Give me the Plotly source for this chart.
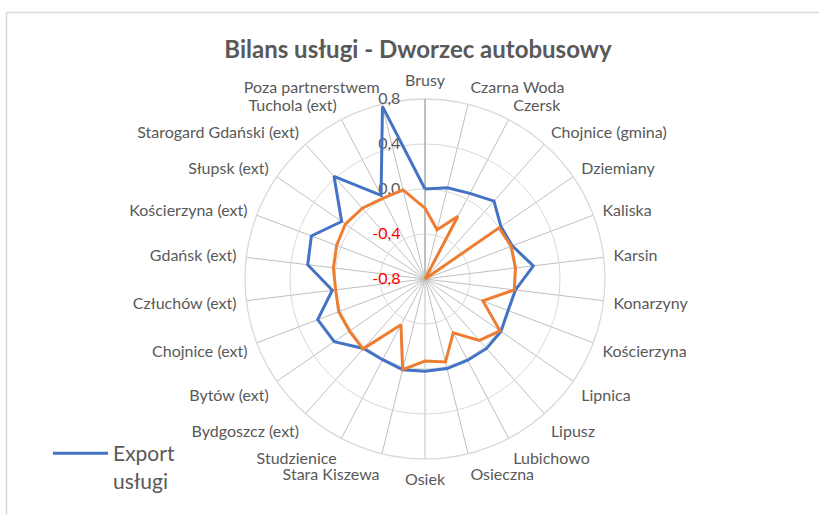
import plotly.graph_objects as go

categories = ["Brusy", "Czarna Woda", "Czersk", "Chojnice (gmina)", "Dziemiany", "Kaliska",
              "Karsin", "Konarzyny", "Kościerzyna", "Lipnica", "Lipusz", "Lubichowo",
              "Osieczna", "Osiek", "Stara Kiszewa", "Studzienice", "Bydgoszcz (ext)",
              "Bytów (ext)", "Chojnice (ext)", "Człuchów (ext)", "Gdańsk (ext)",
              "Kościerzyna (ext)", "Słupsk (ext)", "Starogard Gdański (ext)",
              "Tuchola (ext)", "Poza partnerstwem"]

export_uslugi = [0.0, 0.035, 0.06, 0.125, 0.02, 0.03, 0.17, 0.01, -0.01, 0.02, 0.025, 0.015,
                 0.02, 0.02, 0.03, 0.01, 0.025, 0.18, 0.22, 0.03, 0.25, 0.28, 0.10, 0.42,
                 0.04, 0.78]

import_uslugi = [-0.17, -0.35, -0.17, -0.8, 0.0, 0.02, 0.01, 0.0, -0.25, 0.01, -0.07, -0.26,
                 -0.04, -0.07, 0.03, -0.34, 0.03, 0.015, 0.02, 0.0, 0.02, 0.04, 0.06, 0.04,
                 0.01, 0.016]

tick_vals = [-0.8, -0.4, 0.0, 0.4, 0.8]
tick_text = ["<span style='color:#FF0000'>-0,8</span>",
             "<span style='color:#FF0000'>-0,4</span>",
             "0,0", "0,4", "0,8"]

W, H = 819, 515
cx, cy, R = 425, 279, 180

def closed(v):
    return list(v) + [v[0]]

fig = go.Figure()
fig.add_trace(go.Scatterpolar(
    r=closed(export_uslugi), theta=closed(categories), mode="lines",
    name="Export<br>usługi", line=dict(color="#4472C4", width=3)))
fig.add_trace(go.Scatterpolar(
    r=closed(import_uslugi), theta=closed(categories), mode="lines",
    name="Import usługi", showlegend=False, line=dict(color="#ED7D31", width=3)))

font_family = "Lato, Open Sans, sans-serif"

fig.update_layout(
    width=W, height=H,
    margin=dict(l=0, r=0, t=0, b=0),
    paper_bgcolor="white",
    font=dict(family=font_family, color="#595959"),
    title=dict(text="<b>Bilans usługi - Dworzec autobusowy</b>",
               x=418 / W, xanchor="center", y=1 - 50 / H, yanchor="middle",
               font=dict(size=24, color="#595959", family=font_family)),
    polar=dict(
        domain=dict(x=[(cx - R) / W, (cx + R) / W], y=[(H - cy - R) / H, (H - cy + R) / H]),
        bgcolor="white",
        angularaxis=dict(rotation=90, direction="clockwise", type="category",
                         categoryorder="array", categoryarray=categories,
                         showline=True, linecolor="#d9d9d9", linewidth=1.3,
                         gridcolor="#bfbfbf", gridwidth=1.3,
                         ticks="outside", ticklen=6, tickcolor="rgba(0,0,0,0)",
                         tickfont=dict(size=16, color="#595959"),
                         layer="below traces"),
        radialaxis=dict(range=[-0.8, 0.8], angle=90, tickangle=90,
                        tickvals=tick_vals, ticktext=tick_text,
                        tickfont=dict(size=16, color="#595959"),
                        side="counterclockwise",
                        ticks="outside", ticklen=18, tickcolor="rgba(0,0,0,0)",
                        showline=True, linecolor="#bfbfbf", linewidth=2,
                        gridcolor="#d9d9d9", gridwidth=1.3,
                        layer="below traces"),
    ),
    showlegend=True,
    legend=dict(x=48 / W, y=1 - 433 / H, xanchor="left", yanchor="top",
                bgcolor="rgba(0,0,0,0)", itemwidth=55, valign="top",
                font=dict(size=21, color="#595959", family=font_family)),
    shapes=[
        dict(type="line", xref="paper", yref="paper", x0=6.5 / W, x1=1.0,
             y0=1 - 12.5 / H, y1=1 - 12.5 / H, line=dict(color="#d9d9d9", width=1.5)),
        dict(type="line", xref="paper", yref="paper", x0=6.5 / W, x1=6.5 / W,
             y0=0, y1=1 - 12.5 / H, line=dict(color="#d9d9d9", width=1.5)),
    ],
)

fig.write_html("out.html", config={"displayModeBar": False},
               post_script="document.body.style.margin='0';document.body.style.padding='0';")
